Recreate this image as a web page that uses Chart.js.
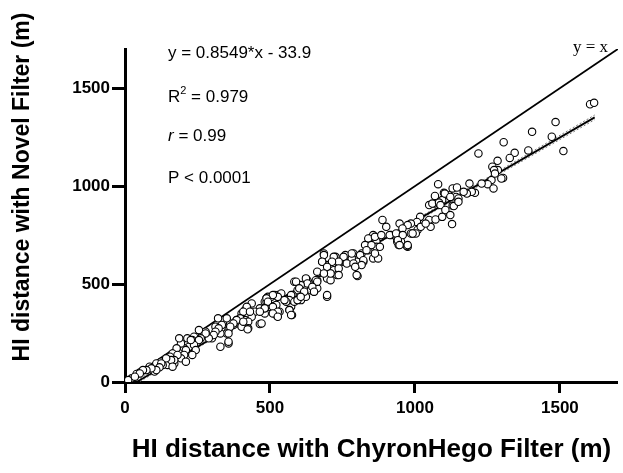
<!DOCTYPE html>
<html>
<head>
<meta charset="utf-8">
<script src="https://cdn.jsdelivr.net/npm/chart.js@4.4.0/dist/chart.umd.min.js"></script>
<style>
  html, body { margin: 0; padding: 0; background: #fff; }
  #wrap { width: 623px; height: 473px; }
</style>
</head>
<body>
<div id="wrap"><canvas id="hiChart"></canvas></div>
<script>
// HI distance pairs: [ChyronHego filter, Novel filter] in metres
const hiPairs = [
  [1604,1418],[1618,1425],[1485,1327],[1404,1277],[1306,1224],[1472,1252],[1512,1179],[1391,1182],
  [1344,1170],[1327,1144],[1285,1129],[1304,1042],[1286,1082],[1267,1099],[1273,1082],[1219,1167],
  [1264,1031],[1251,1010],[1271,988],[1080,1010],[1130,988],[1145,993],[1188,1013],[1207,966],
  [1183,966],[1069,950],[1100,966],[1117,954],[1142,945],[1049,903],[1066,911],[1094,929],[1130,900],
  [1103,962],[1122,945],[1060,911],[1083,916],[1088,903],[1150,937],[1134,898],[1196,971],[1179,962],
  [1168,971],[1276,1064],[1298,1039],[1230,1013],[1018,843],[1007,817],[986,809],[947,809],[975,801],
  [1049,827],[1071,830],[1054,792],[1009,776],[992,758],[1128,806],[975,690],[947,758],[941,724],
  [952,716],[944,699],[935,741],
  [888,827],[901,792],[918,750],[957,784],[1003,758],[1020,792],[939,716],[972,694],[986,758],
  [1037,809],[1094,843],[1105,878],[1122,852],[1150,920],
  [833,699],[845,733],[856,750],[867,716],[839,673],[816,656],[822,614],[856,631],[873,631],[867,690],
  [799,614],[788,656],[782,631],[754,614],[726,639],[760,648],[737,605],[720,571],[697,597],[709,554],
  [731,546],[686,656],[680,614],[697,529],[709,520],[802,541],[697,435],[663,520],[652,503],[641,469],
  [618,486],[629,520],[607,469],[584,512],[595,469],[578,444],[590,418],[573,384],[567,367],[576,342],
  [607,418],[624,435],[652,461],[663,478],[527,444],[505,435],[488,427],[482,410],[493,384],[510,384],
  [533,359],[525,337],[482,350],[465,376],[448,359],[437,333],[414,367],[402,350],[385,316],[391,299],
  [414,316],[425,308],[425,274],[402,282],[374,291],[363,299],[357,265],[351,248],[329,248],[321,325],
  [312,282],[329,180],[357,197],[300,223],[289,231],[278,257],[266,240],[255,265],[238,231],[232,214],
  [215,223],[221,180],[204,172],[193,197],[187,223],[178,172],[164,146],[155,129],[145,112],[170,95],
  [147,87],[130,87],[125,104],[108,95],[102,53],[85,78],[74,61],[60,58],[51,48],[40,41],[23,19],
  [11,10],[465,296],[423,269],
  [493,435],[516,444],[488,410],[522,393],[499,384],[482,376],[437,401],[420,384],[408,359],[431,359],
  [397,325],[385,316],[408,308],[374,299],[363,282],[351,325],[334,291],[357,248],[323,274],[312,257],
  [357,206],[306,240],[289,223],[278,248],[261,223],[255,214],[238,189],[227,214],[244,163],[232,138],
  [210,163],[204,138],[193,121],[181,138],[170,112],[159,112],[142,121],[125,95],[119,75],[108,61],
  [91,70],[74,61],[62,61],[51,44],[34,27],[210,104],[164,78],
  [839,733],[862,741],[884,750],[913,750],[935,758],[958,750],[992,758],[828,699],[850,699],[879,690],
  [833,673],[862,656],[941,724],[947,699],[975,699],[811,648],[782,656],[754,639],[720,639],[737,614],
  [714,614],[686,648],[680,614],[697,588],[737,580],[765,605],[788,605],[822,622],[816,597],[794,588],
  [799,546],[709,554],[737,546],[663,563],[686,554],[658,520],[624,529],[629,503],[663,512],[646,486],
  [606,495],[590,512],[601,478],[618,461],[652,461],[697,444],[573,444],[567,418],[584,410],[595,418],
  [606,435],[556,410],[539,452],[527,435],[510,444],[488,427],[493,410],[510,384],[527,359],[510,350],
  [527,333],[482,376],[567,367],[573,342],[465,359],[471,299],[550,418]
];

// linear fit y = 0.8549*x - 33.9 and its confidence band
const fitX = [40, 1620];
const fitY = [0.3, 1351.0];
const bandX = [40, 650, 1620];
const bandUpper = [8, 525, 1363];
const bandLower = [-7, 519, 1339];

// line of identity
const identityX = [0, 1700];
const identityY = [0, 1700];

const axisTicks = [0, 500, 1000, 1500];
const xTitle = 'HI distance with ChyronHego Filter (m)';
const yTitle = 'HI distance with Novel Filter (m)';

function toPoints(xs, ys) {
  return xs.map((x, i) => ({ x: x, y: ys[i] }));
}

// text that sits on the plot: fit statistics, y title, identity label
const overlayText = {
  id: 'overlayText',
  afterDraw(chart) {
    const ctx = chart.ctx;
    ctx.save();
    ctx.fillStyle = '#000';
    ctx.textBaseline = 'middle';
    ctx.textAlign = 'left';

    const left = 168;
    ctx.font = '17px Arial, "Liberation Sans", sans-serif';
    ctx.fillText('y = 0.8549*x - 33.9', left, 53);

    ctx.fillText('R', left, 97);
    let w = ctx.measureText('R').width;
    ctx.font = '11px Arial, "Liberation Sans", sans-serif';
    ctx.fillText('2', left + w, 91);
    w += ctx.measureText('2').width;
    ctx.font = '17px Arial, "Liberation Sans", sans-serif';
    ctx.fillText(' = 0.979', left + w, 97);

    ctx.font = 'italic 17px Arial, "Liberation Sans", sans-serif';
    ctx.fillText('r', left, 136);
    w = ctx.measureText('r').width;
    ctx.font = '17px Arial, "Liberation Sans", sans-serif';
    ctx.fillText(' = 0.99', left + w, 136);

    ctx.fillText('P < 0.0001', left, 178);

    ctx.font = '17px "Liberation Serif", "Times New Roman", serif';
    ctx.fillText('y = x', 573, 48);

    // y axis title
    ctx.translate(23, 187);
    ctx.rotate(-Math.PI / 2);
    ctx.textAlign = 'center';
    ctx.font = 'bold 23px Arial, "Liberation Sans", sans-serif';
    ctx.fillText(yTitle, 0, 0);
    ctx.restore();
  }
};

const tickFont = { family: 'Arial, "Liberation Sans", sans-serif', size: 17, weight: 'bold' };

new Chart(document.getElementById('hiChart'), {
  type: 'scatter',
  data: {
    datasets: [
      {
        label: 'HI distance',
        data: hiPairs.map(p => ({ x: p[0], y: p[1] })),
        pointRadius: 3.7,
        pointBorderWidth: 1.1,
        pointBackgroundColor: '#fff',
        pointBorderColor: '#000',
        order: 0
      },
      {
        label: 'fit',
        data: toPoints(fitX, fitY),
        showLine: true,
        borderColor: '#000',
        borderWidth: 1.8,
        pointRadius: 0,
        order: 2
      },
      {
        label: 'upper band',
        data: toPoints(bandX, bandUpper),
        showLine: true,
        borderColor: '#777',
        borderWidth: 1,
        borderDash: [2, 2],
        pointRadius: 0,
        order: 3
      },
      {
        label: 'lower band',
        data: toPoints(bandX, bandLower),
        showLine: true,
        borderColor: '#777',
        borderWidth: 1,
        borderDash: [2, 2],
        pointRadius: 0,
        order: 3
      },
      {
        label: 'y = x',
        data: toPoints(identityX, identityY),
        showLine: true,
        borderColor: '#000',
        borderWidth: 1.8,
        pointRadius: 0,
        order: 4
      }
    ]
  },
  options: {
    responsive: true,
    maintainAspectRatio: false,
    animation: false,
    layout: { padding: { top: 49, right: 0, left: 0, bottom: 0 } },
    plugins: {
      legend: { display: false },
      tooltip: { enabled: false }
    },
    scales: {
      x: {
        type: 'linear',
        min: 0,
        max: 1700,
        afterBuildTicks: s => { s.ticks = axisTicks.map(v => ({ value: v })); },
        afterFit: s => { s.height = 91; },
        ticks: { font: tickFont, color: '#000', padding: 5, maxRotation: 0, callback: v => String(v) },
        grid: { drawOnChartArea: false, tickLength: 11, tickWidth: 3, tickColor: '#000', color: '#000' },
        border: { width: 3, color: '#000' },
        title: {
          display: true,
          text: xTitle,
          color: '#000',
          font: { family: 'Arial, "Liberation Sans", sans-serif', size: 26, weight: 'bold' },
          padding: { top: 0, bottom: 8 }
        }
      },
      y: {
        type: 'linear',
        min: 0,
        max: 1700,
        afterBuildTicks: s => { s.ticks = axisTicks.map(v => ({ value: v })); },
        afterFit: s => { s.width = 125; },
        ticks: { font: tickFont, color: '#000', padding: 2, callback: v => String(v) },
        grid: { drawOnChartArea: false, tickLength: 13, tickWidth: 3, tickColor: '#000', color: '#000' },
        border: { width: 3, color: '#000' }
      }
    }
  },
  plugins: [overlayText]
});
</script>
</body>
</html>
